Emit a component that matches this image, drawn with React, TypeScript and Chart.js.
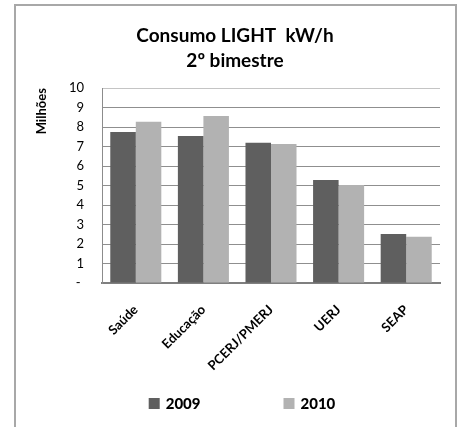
import React, { useEffect, useRef } from "react";
import { Chart, registerables } from "chart.js";

Chart.register(...registerables);

const categories = ["Saúde", "Educação", "PCERJ/PMERJ", "UERJ", "SEAP"];
const values2009 = [7.75, 7.55, 7.2, 5.28, 2.52];
const values2010 = [8.27, 8.57, 7.13, 5.03, 2.37];
const seriesNames = ["2009", "2010"];
const seriesColors = ["#5f5f5f", "#b2b2b2"];
const yTickLabels = ["- ", "1", "2", "3", "4", "5", "6", "7", "8", "9", "10"];
const titleLines = ["Consumo LIGHT  kW/h", "2º bimestre"];
const yAxisTitle = "Milhões";

const FONT = "Lato, 'Liberation Sans', sans-serif";

const framePlugin = {
  id: "frame",
  beforeDraw(chart: any) {
    const ctx = chart.ctx;
    ctx.save();
    ctx.fillStyle = "#ffffff";
    ctx.fillRect(0, 0, chart.width, chart.height);
    ctx.strokeStyle = "#a8a8a8";
    ctx.lineWidth = 2;
    ctx.strokeRect(15, 5, 441, 440);
    ctx.restore();
  },
};

const legendPlugin = {
  id: "customLegend",
  afterDraw(chart: any) {
    const ctx = chart.ctx;
    ctx.save();
    ctx.font = `900 15px ${FONT}`;
    ctx.textBaseline = "middle";
    ctx.textAlign = "left";
    const box = 11;
    const gap = 6;
    const spacing = 83;
    const widths = chart.data.datasets.map((d: any) => box + gap + ctx.measureText(d.label).width);
    const total = widths.reduce((a: number, b: number) => a + b, 0) + spacing * (widths.length - 1);
    let x = 242 - total / 2;
    const cy = 403.5;
    chart.data.datasets.forEach((d: any, i: number) => {
      ctx.fillStyle = d.backgroundColor;
      ctx.fillRect(x, cy - box / 2, box, box);
      ctx.fillStyle = "#000000";
      ctx.fillText(d.label, x + box + gap, cy + 0.5);
      x += widths[i] + spacing;
    });
    ctx.restore();
  },
};

export default function App() {
  const canvasRef = useRef<HTMLCanvasElement | null>(null);

  useEffect(() => {
    if (!canvasRef.current) return;
    const chart = new Chart(canvasRef.current, {
      type: "bar",
      data: {
        labels: categories,
        datasets: [
          { label: seriesNames[0], data: values2009, backgroundColor: seriesColors[0] },
          { label: seriesNames[1], data: values2010, backgroundColor: seriesColors[1] },
        ],
      },
      options: {
        animation: false,
        responsive: true,
        maintainAspectRatio: false,
        layout: { padding: { top: 0, left: 30, right: 19, bottom: 0 } },
        datasets: {
          bar: { categoryPercentage: 0.755, barPercentage: 1 },
        },
        plugins: {
          legend: { display: false },
          tooltip: { enabled: false },
          title: {
            display: true,
            text: titleLines,
            color: "#000000",
            font: { family: FONT, size: 19, weight: "bold", lineHeight: 1.32 },
            padding: { top: 23, bottom: 15 },
          },
        },
        scales: {
          x: {
            offset: true,
            grid: { display: false, drawTicks: false },
            border: { display: true, color: "#7f7f7f", width: 2 },
            ticks: {
              autoSkip: false,
              minRotation: 45,
              maxRotation: 45,
              padding: 19,
              color: "#000000",
              font: { family: FONT, size: 13, weight: "bold" },
            },
            afterFit(scale: any) {
              scale.height = 144;
            },
          },
          y: {
            min: 0,
            max: 10,
            grid: {
              drawTicks: false,
              color: (c: any) => (c.tick && c.tick.value === 10 ? "#c4c4c4" : "#8f8f8f"),
            },
            border: { display: true, color: "#8c8c8c", width: 1 },
            ticks: {
              stepSize: 1,
              autoSkip: false,
              padding: 18,
              color: "#000000",
              font: { family: FONT, size: 13 },
              callback: (v: any) => yTickLabels[v as number],
            },
            title: {
              display: true,
              text: yAxisTitle,
              align: "end",
              color: "#000000",
              font: { family: FONT, size: 13, weight: "bold" },
              padding: { top: 4, bottom: 0 },
            },
            afterFit(scale: any) {
              scale.width = 72;
            },
          },
        },
      },
      plugins: [framePlugin, legendPlugin],
    });
    return () => chart.destroy();
  }, []);

  return (
    <div style={{ position: "fixed", left: 0, top: 0, width: 459, height: 427 }}>
      <canvas ref={canvasRef} />
    </div>
  );
}
